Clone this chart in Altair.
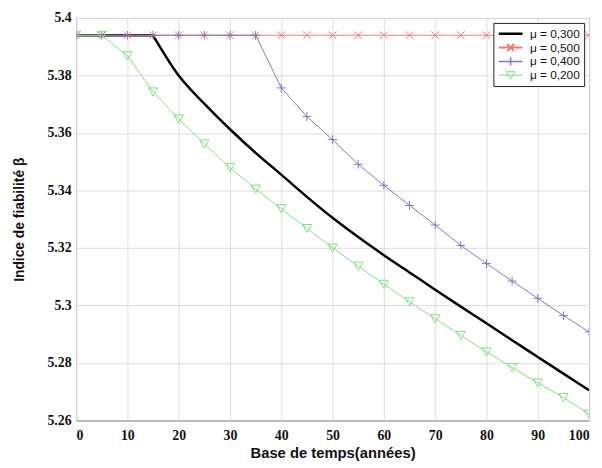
import altair as alt
import pandas as pd

years = list(range(0, 101, 5))
series_names = ["μ = 0,300", "μ = 0,500", "μ = 0,400", "μ = 0,200"]

beta_300 = [5.394, 5.394, 5.394, 5.394, 5.380, 5.3702, 5.3613, 5.3531, 5.3455, 5.3378,
            5.3305, 5.3238, 5.3175, 5.3115, 5.3055, 5.2996, 5.2938, 5.2879, 5.2821, 5.2763, 5.2705]
beta_500 = [5.394] * 21
beta_400 = [5.394, 5.394, 5.394, 5.394, 5.394, 5.394, 5.394, 5.394, 5.3757, 5.3657,
            5.3577, 5.3491, 5.3418, 5.3348, 5.328, 5.3209, 5.3146, 5.3085, 5.3025, 5.2965, 5.2908]
beta_200 = [5.394, 5.394, 5.3869, 5.3743, 5.3649, 5.3562, 5.348, 5.3405, 5.3337, 5.3268,
            5.320, 5.3137, 5.3074, 5.3013, 5.2954, 5.2896, 5.2839, 5.2784, 5.2731, 5.268, 5.2622]

x_ticks = list(range(0, 101, 10))
y_ticks = [5.26, 5.28, 5.30, 5.32, 5.34, 5.36, 5.38, 5.40]

line_colors = ["#000000", "#f07a7a", "#7a7ac8", "#80de80"]
line_widths = [2.5, 1, 1, 1]
marker_paths = [
    None,
    "M-1,-1L1,1M-1,1L1,-1",
    "M-1,0L1,0M0,-1L0,1",
    "M-1,-0.85L1,-0.85L0,0.9Z",
]
legend_paths = [
    "M-1,0L1,0",
    "M-1,0L1,0M-0.3,-0.3L0.3,0.3M-0.3,0.3L0.3,-0.3",
    "M-1,0L1,0M0,-0.35L0,0.35",
    "M-1,0L1,0M-0.36,-0.3L0.36,-0.3L0,0.32Z",
]
marker_sizes = [0, 60, 80, 90]
# the black curve: flat part drawn straight, decaying part drawn smooth
black_break_year = 15

tick_font = "Liberation Serif, DejaVu Serif, serif"
title_font = "Liberation Sans, Arial, sans-serif"

rows = []
for name, vals in zip(series_names, [beta_300, beta_500, beta_400, beta_200]):
    for yr, v in zip(years, vals):
        rows.append({"year": yr, "beta": v, "series": name})
df = pd.DataFrame(rows)

x_enc = alt.X("year:Q", scale=alt.Scale(domain=[0, 100], nice=False),
              axis=alt.Axis(values=x_ticks, title="Base de temps(années)",
                            labelFont=tick_font, labelFontWeight="bold", labelFontSize=14,
                            titleFont=title_font, titleFontWeight="bold", titleFontSize=15))
y_enc = alt.Y("beta:Q", scale=alt.Scale(domain=[5.26, 5.4], nice=False, zero=False),
              axis=alt.Axis(values=y_ticks, format=".2~f", title="Indice de fiabilité  β",
                            labelFont=tick_font, labelFontWeight="bold", labelFontSize=14,
                            titleFont=title_font, titleFontWeight="bold", titleFontSize=14))

base = alt.Chart(df)
layers = []
for i, name in enumerate(series_names):
    sel = base.transform_filter(alt.datum.series == name)
    if marker_paths[i] is None:
        layers.append(
            sel.transform_filter(alt.datum.year <= black_break_year)
            .mark_line(color=line_colors[i], strokeWidth=line_widths[i], clip=True)
            .encode(x=x_enc, y=y_enc)
        )
        layers.append(
            sel.transform_filter(alt.datum.year >= black_break_year)
            .mark_line(color=line_colors[i], strokeWidth=line_widths[i], clip=True,
                       interpolate="monotone")
            .encode(x=x_enc, y=y_enc)
        )
    else:
        layers.append(
            sel.mark_line(color=line_colors[i], strokeWidth=line_widths[i], clip=True)
            .encode(x=x_enc, y=y_enc)
        )
        layers.append(
            sel.mark_point(shape=marker_paths[i], filled=False, stroke=line_colors[i],
                           strokeWidth=1, size=marker_sizes[i], opacity=1, clip=True)
            .encode(x=x_enc, y=y_enc)
        )

legend_layer = (
    base.transform_filter("datum.year < 0")
    .mark_point(filled=False, opacity=1)
    .encode(
        x=x_enc, y=y_enc,
        stroke=alt.Stroke("series:N", scale=alt.Scale(domain=series_names, range=line_colors),
                          legend=alt.Legend(title=None)),
        shape=alt.Shape("series:N", scale=alt.Scale(domain=series_names, range=legend_paths),
                        legend=alt.Legend(title=None)),
        strokeWidth=alt.StrokeWidth("series:N", scale=alt.Scale(domain=series_names, range=line_widths),
                                    legend=alt.Legend(title=None)),
    )
)
layers.append(legend_layer)

chart = (
    alt.layer(*layers)
    .properties(
        width=520, height=408,
        autosize=alt.AutoSizeParams(type="none"),
        padding={"left": 69, "top": 7, "right": 5, "bottom": 44},
        background="white",
    )
    .configure_view(stroke="#333333", strokeWidth=1)
    .configure_axis(
        grid=True, gridColor="#dcdcdc", gridWidth=1,
        domain=False, ticks=False,
        labelColor="#111111", titleColor="#111111",
    )
    .configure_axisX(labelPadding=8, titlePadding=4)
    .configure_axisY(labelPadding=5, titlePadding=21)
    .configure_legend(
        orient="top-right", offset=5, fillColor="white", strokeColor="#222222",
        padding=4, labelFont="Liberation Sans", labelFontSize=12, labelColor="#111111",
        symbolSize=576, rowPadding=0, labelOffset=6, clipHeight=14,
    )
)

chart.save("out.html", embed_options={"renderer": "svg", "actions": False})
